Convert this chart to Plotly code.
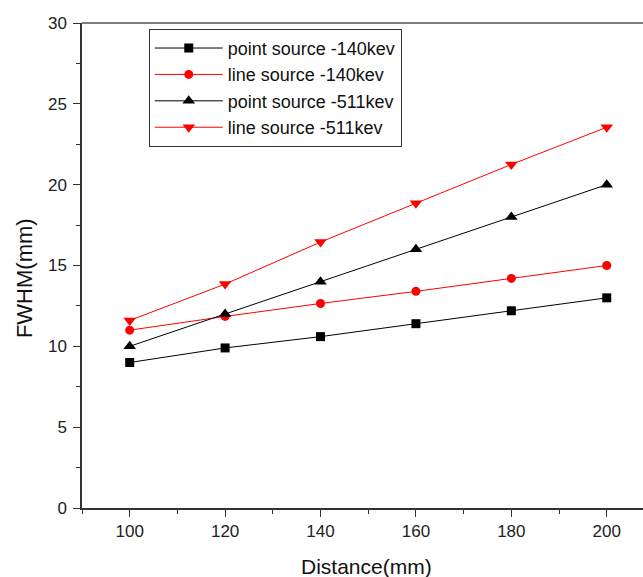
import plotly.graph_objects as go

distance = [100, 120, 140, 160, 180, 200]
point_140 = [9.0, 9.9, 10.6, 11.4, 12.2, 13.0]
line_140 = [11.0, 11.85, 12.65, 13.4, 14.2, 15.0]
point_511 = [10.0, 12.0, 14.0, 16.0, 18.0, 20.0]
line_511 = [11.6, 13.85, 16.45, 18.85, 21.25, 23.55]

series = [
    ("point source -140kev", point_140, "black", "square", 9),
    ("line source -140kev", line_140, "red", "circle", 9),
    ("point source -511kev", point_511, "black", "triangle-up", 11),
    ("line source -511kev", line_511, "red", "triangle-down", 11),
]

fig = go.Figure()
for i, (name, vals, color, sym, sz) in enumerate(series):
    fig.add_trace(go.Scatter(
        x=distance, y=vals, name=name, mode="lines+markers",
        line=dict(color=color, width=1),
        marker=dict(symbol=sym, size=sz, color=color),
        legendgroup=f"g{i}",
    ))

font_family = "Liberation Sans, Arial, sans-serif"
fig.update_layout(
    width=643, height=577,
    margin=dict(l=82, r=0, t=23, b=69),
    paper_bgcolor="white", plot_bgcolor="white",
    font=dict(family=font_family, color="#222222", size=17),
    showlegend=True,
    legend=dict(
        x=0.119, y=0.988, xanchor="left", yanchor="top",
        bordercolor="#333333", borderwidth=1, bgcolor="white",
        font=dict(size=18, color="#111111"),
        tracegroupgap=0, traceorder="grouped", itemwidth=68,
    ),
    xaxis=dict(
        range=[90, 207.6], tickmode="array",
        tickvals=[100, 120, 140, 160, 180, 200],
        ticks="outside", ticklen=7, tickwidth=1, tickcolor="#333333",
        showline=True, linecolor="#333333", linewidth=1.5, mirror=False,
        showgrid=False, zeroline=False,
        minor=dict(tickvals=[90, 110, 130, 150, 170, 190], ticks="outside", ticklen=4, tickcolor="#333333"),
        tickfont=dict(size=17),
    ),
    yaxis=dict(
        range=[0, 30], tickmode="array",
        tickvals=[0, 5, 10, 15, 20, 25, 30],
        ticks="outside", ticklen=7, tickwidth=1, tickcolor="#333333",
        showline=True, linecolor="#333333", linewidth=1.5,
        showgrid=False, zeroline=False,
        minor=dict(tickvals=[2.5, 7.5, 12.5, 17.5, 22.5, 27.5], ticks="outside", ticklen=4, tickcolor="#333333"),
        tickfont=dict(size=17), ticklabelstandoff=3,
    ),
    annotations=[
        dict(text="Distance(mm)", xref="paper", yref="paper", x=0.508, y=-0.12,
             xanchor="center", yanchor="middle", showarrow=False,
             font=dict(size=21, color="#111111")),
        dict(text="FWHM(mm)", xref="paper", yref="paper", x=-0.1034, y=0.474,
             xanchor="center", yanchor="middle", showarrow=False, textangle=-90,
             font=dict(size=22, color="#111111")),
    ],
)
# top frame line
fig.add_shape(type="line", xref="paper", yref="paper", x0=0, x1=1, y0=1, y1=1,
              line=dict(color="#555555", width=1.5))

fig.write_html("out.html")
